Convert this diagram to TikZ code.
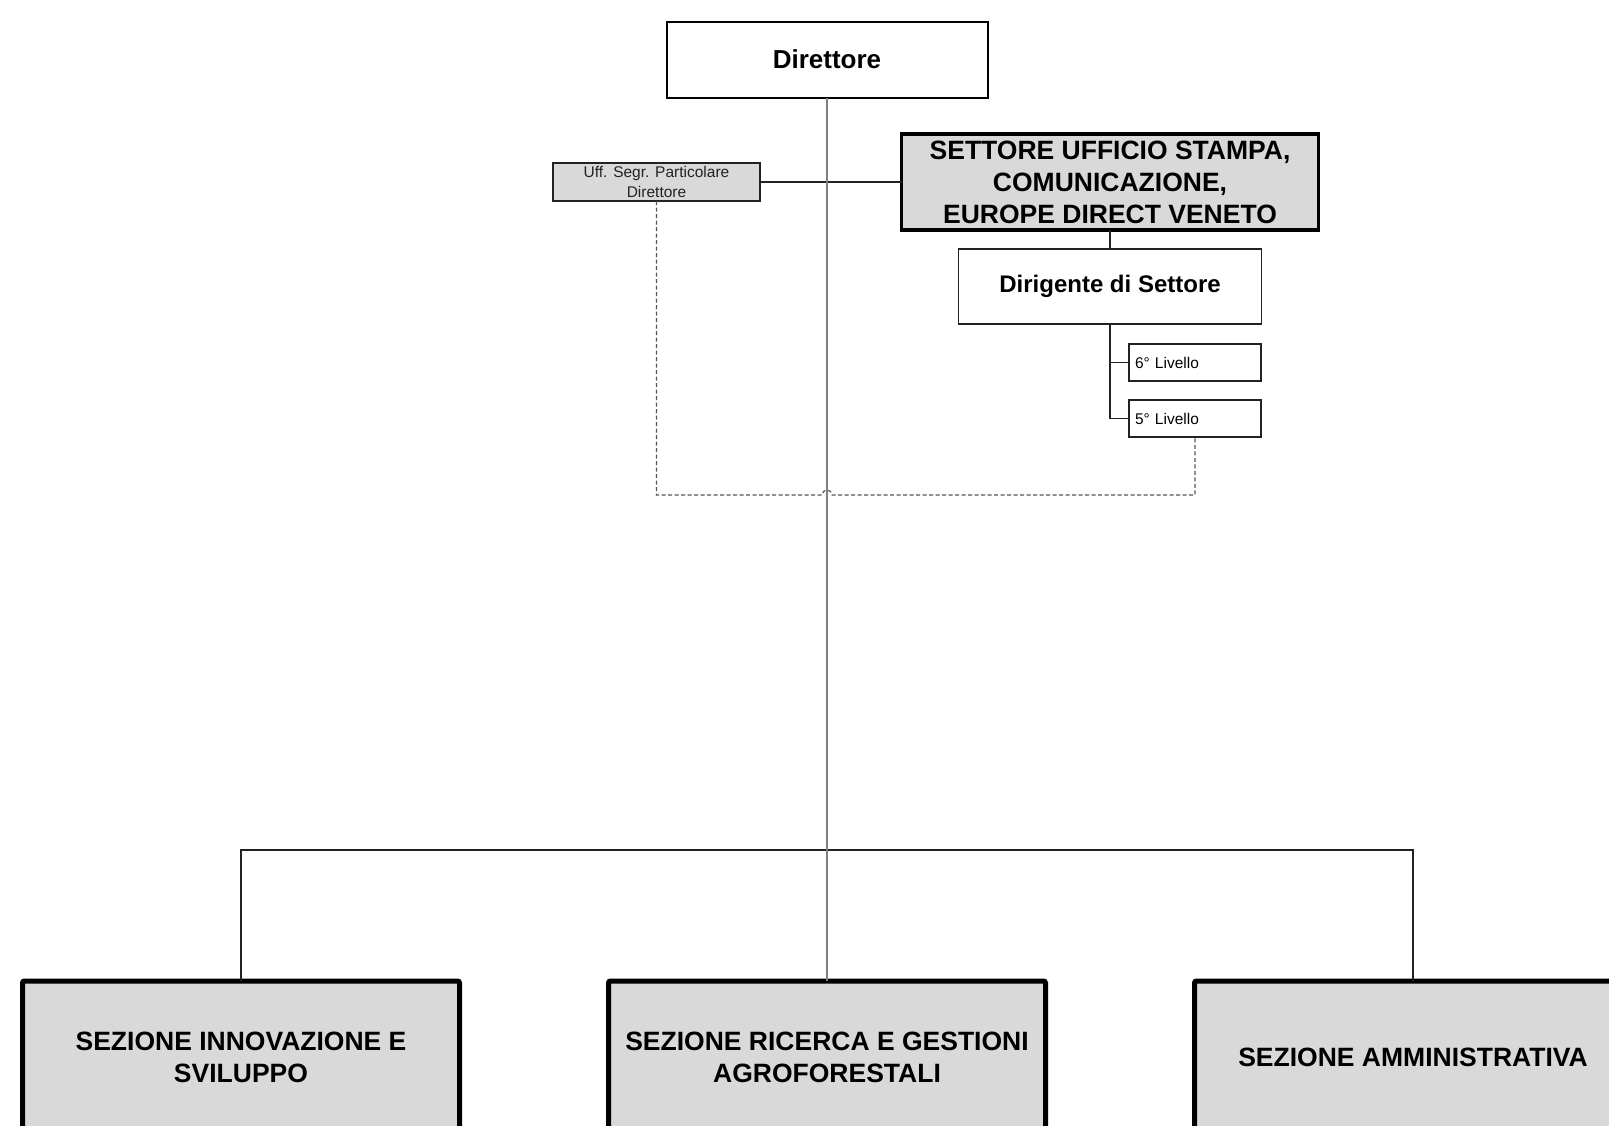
\documentclass[tikz,border=0pt]{standalone}
\usepackage{fontspec}
\setmainfont{Liberation Sans}
\definecolor{boxgray}{HTML}{D9D9D9}
\definecolor{linedark}{HTML}{222222}
\definecolor{linegray}{HTML}{7F7F7F}
\definecolor{dashgray}{HTML}{555555}
\tikzset{
  basebox/.style={draw=black, rectangle, align=center, inner sep=0pt, outer sep=0pt},
  dirbox/.style={basebox, fill=white, line width=2pt, font=\bfseries\fontsize{26}{31}\selectfont},
  uffbox/.style={basebox, fill=boxgray, draw=linedark, line width=1.2pt, text=linedark, font=\fontsize{15.5}{19.5}\selectfont},
  setbox/.style={basebox, fill=boxgray, line width=3.5pt, font=\bfseries\fontsize{26.5}{32}\selectfont},
  digbox/.style={basebox, fill=white, draw=linedark, line width=1.2pt, font=\bfseries\fontsize{24}{29}\selectfont},
  livbox/.style={basebox, fill=white, draw=linedark, line width=1.2pt, font=\fontsize{15.5}{19}\selectfont, text width=120pt, align=left, minimum width=132pt, minimum height=37pt},
  sezbox/.style={basebox, fill=boxgray, line width=5pt, rounded corners=2pt, minimum width=437pt, minimum height=152pt, font=\bfseries\fontsize{26.5}{32}\selectfont},
  conn/.style={draw=linedark, line width=1.2pt},
  mainconn/.style={draw=linegray, line width=1.6pt},
  dashconn/.style={draw=dashgray, line width=1.2pt, dash pattern=on 4pt off 2.5pt}
}
\begin{document}
\begin{tikzpicture}[x=1pt,y=-1pt]
\useasboundingbox (0,0) rectangle (1609,1125);
\clip (0,0) rectangle (1609,1125);
\fill[white] (0,0) rectangle (1609,1125);

% nodes
\node[dirbox, minimum width=321pt, minimum height=76pt] (dir) at (827,59.5) {Direttore};
\node[uffbox, minimum width=207pt, minimum height=38pt] (uff) at (656.5,182) {Uff. Segr. Particolare\\Direttore};
\node[setbox, minimum width=417pt, minimum height=96pt] (set) at (1110,182) {SETTORE UFFICIO STAMPA,\\COMUNICAZIONE,\\EUROPE DIRECT VENETO};
\node[digbox, minimum width=303pt, minimum height=75pt] (dig) at (1110,286.5) {Dirigente di Settore};
\node[livbox] (l6) at (1195,362.5) {6° Livello};
\node[livbox] (l5) at (1195,418.5) {5° Livello};
\node[sezbox] (sezA) at (241,1057) {SEZIONE INNOVAZIONE E\\SVILUPPO};
\node[sezbox] (sezB) at (827,1057) {SEZIONE RICERCA E GESTIONI\\AGROFORESTALI};
\node[sezbox] (sezC) at (1413,1057) {SEZIONE AMMINISTRATIVA};

\coordinate (bus) at (827,850);
\coordinate (hopc) at (827,495);

% connectors
\draw[conn] (uff.east) -- (set.west);
\draw[conn] (set.south) -- (dig.north);
\draw[conn] (dig.south) |- (l6.west);
\draw[conn] (dig.south) |- (l5.west);
\draw[conn] (sezA.north) |- (bus) -| (sezC.north);
\draw[dashconn] (uff.south) |- ([xshift=-5pt]hopc) arc (180:0:5pt) -| (l5.south);
\draw[mainconn] (dir.south) -- (sezB.north);
\end{tikzpicture}
\end{document}
